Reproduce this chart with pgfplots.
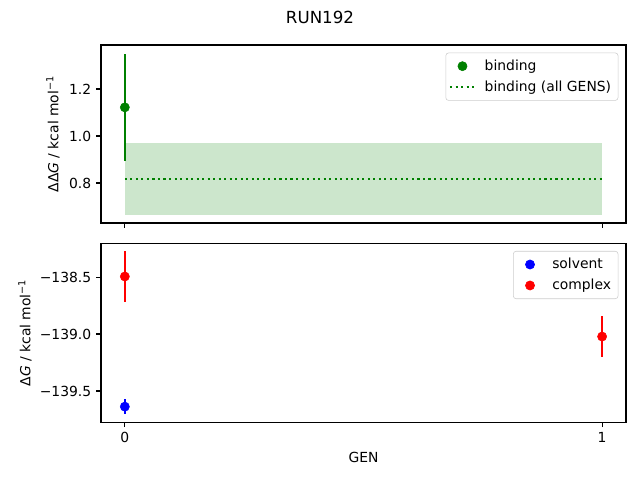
\documentclass[border=0pt]{standalone}
\usepackage{fontspec}
\setmainfont{DejaVu Sans}
\usepackage{pgfplots}
\pgfplotsset{compat=1.18}

\definecolor{mplgreen}{RGB}{0,128,0}
\definecolor{mplred}{RGB}{255,0,0}
\definecolor{mplblue}{RGB}{0,0,255}

\pgfplotsset{
  mpl/.style={
    scale only axis,
    width=378pt,
    xmin=-0.05, xmax=1.05,
    xtick={0,1},
    axis line style={line width=0.8pt},
    tick style={line width=0.8pt, black},
    tick align=outside,
    tick pos=left,
    major tick length=3.5pt,
    ticklabel style={font=\fontsize{10}{12}\selectfont},
    label style={font=\fontsize{10}{12}\selectfont},
    legend cell align=left,
    legend style={at={(1,1)}, anchor=north east, xshift=-5.5pt, yshift=-5.5pt,
      draw=black!20, rounded corners=2pt, fill=white,
      font=\fontsize{10}{12}\selectfont, inner xsep=3pt, inner ysep=3pt,
      row sep=2pt,
      /tikz/every odd column/.append style={column sep=5pt}},
  },
  dotleg/.style={legend image code/.code={
    \pgfpathrectangle{\pgfpoint{0pt}{-3pt}}{\pgfpoint{18pt}{6pt}}%
    \pgfusepath{use as bounding box}%
    \draw[##1, sharp corners] (0pt,0pt) -- (18pt,0pt);}},
  markleg/.style={legend image code/.code={
    \pgfpathrectangle{\pgfpoint{0pt}{-3pt}}{\pgfpoint{18pt}{6pt}}%
    \pgfusepath{use as bounding box}%
    \draw[##1] plot coordinates {(9pt,0pt)};}},
  ebar/.style={error bars/.cd, y dir=both, y explicit, error mark=none,
    error bar style={line width=1.5pt}},
}

\begin{document}
\begin{tikzpicture}
\useasboundingbox (0,0) rectangle (460.8pt,345.6pt);
\node[font=\fontsize{12}{14}\selectfont] at (230.4pt,333.4pt) {RUN192};

\begin{axis}[mpl,
  at={(72.7pt,313.2pt)}, anchor=north west,
  height=128.2pt,
  ymin=0.6295, ymax=1.3875,
  xticklabels={},
  ytick={0.8,1.0,1.2},
  yticklabels={0.8,1.0,1.2},
  ylabel={ΔΔ\textit{G} / kcal mol\textsuperscript{−1}},
  ylabel style={at={(axis description cs:-0.0914,0.5)}, anchor=center},
]
\addplot[draw=none, fill=mplgreen, fill opacity=0.2, forget plot]
  coordinates {(0,0.664) (1,0.664) (1,0.971) (0,0.971)} -- cycle;
\addplot[only marks, mark=*, mark size=3.3pt, color=mplgreen, markleg, ebar]
  coordinates {(0,1.122) +- (0,0.229)};
\addlegendentry{binding}
\addplot[mplgreen, line width=1.5pt, dash pattern=on 1.5pt off 2.475pt, dotleg]
  coordinates {(0,0.818) (1,0.818)};
\addlegendentry{binding (all GENS)}
\end{axis}

\begin{axis}[mpl,
  at={(72.7pt,170.4pt)}, anchor=north west,
  height=128.9pt,
  ymin=-139.775, ymax=-138.204,
  xticklabels={0,1},
  ytick={-139.5,-139.0,-138.5},
  yticklabels={−139.5,−139.0,−138.5},
  xlabel={GEN},
  ylabel={Δ\textit{G} / kcal mol\textsuperscript{−1}},
  ylabel style={at={(axis description cs:-0.1448,0.5)}, anchor=center},
]
\addplot[only marks, mark=*, mark size=3.3pt, color=mplblue, markleg, ebar]
  coordinates {(0,-139.637) +- (0,0.063)};
\addlegendentry{solvent}
\addplot[only marks, mark=*, mark size=3.3pt, color=mplred, markleg, ebar]
  coordinates {(0,-138.495) +- (0,0.222) (1,-139.022) +- (0,0.177)};
\addlegendentry{complex}
\end{axis}
\end{tikzpicture}
\end{document}
